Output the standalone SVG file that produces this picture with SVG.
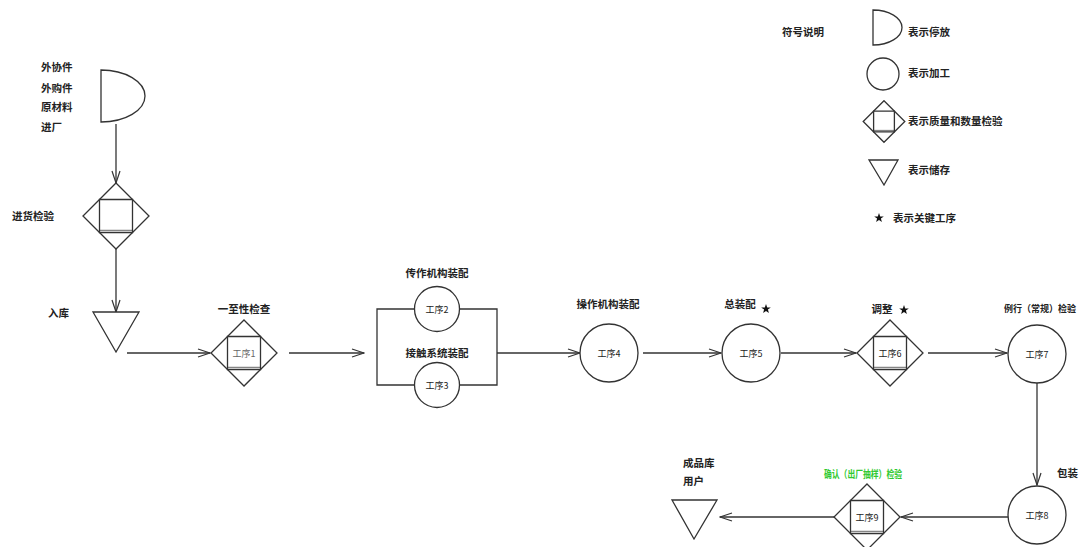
<svg xmlns="http://www.w3.org/2000/svg" xmlns:xlink="http://www.w3.org/1999/xlink" width="1088" height="547" viewBox="0 0 1088 547">
<style>
.s{fill:#fff;stroke:#333;stroke-width:1.3;vector-effect:non-scaling-stroke}
.n{fill:none;stroke:#333;stroke-width:1.3;vector-effect:non-scaling-stroke}
.c{stroke:#333;stroke-width:1.3;fill:none;marker-end:url(#ah)}
.t{font-family:"Noto Sans CJK SC","Noto Sans",sans-serif;font-size:10.5px;font-weight:bold;fill:#222}
.m{text-anchor:middle}
.i{font-family:"Noto Sans CJK SC","Noto Sans",sans-serif;font-size:9px;fill:#222;text-anchor:middle}
.g{fill:#2fc92f}
.st{fill:#111}
</style>
<defs>
<marker id="ah" markerUnits="userSpaceOnUse" markerWidth="14" markerHeight="10" refX="13" refY="5" orient="auto">
<path d="M1,1 L13,5 L1,9" fill="none" stroke="#333" stroke-width="1.2"/>
</marker>
<g id="dq">
<polygon points="0,-33 33,0 0,33 -33,0" class="s"/>
<rect x="-16.5" y="-16.5" width="33" height="33" class="n"/>
<line x1="-16.5" y1="14.3" x2="16.5" y2="14.3" class="n" stroke-opacity="0.6"/>
</g>
<path id="star" d="M0,-5 L1.2,-1.6 L4.8,-1.5 L1.9,0.6 L2.9,4 L0,2 L-2.9,4 L-1.9,0.6 L-4.8,-1.5 L-1.2,-1.6 Z"/>
</defs>

<g id="connectors">
<line x1="116" y1="124" x2="116" y2="183" class="c"/>
<line x1="116" y1="249" x2="116" y2="312" class="c"/>
<line x1="127" y1="353" x2="210" y2="353" class="c"/>
<line x1="289" y1="353" x2="364" y2="353" class="c"/>
<line x1="497" y1="353" x2="580" y2="353" class="c"/>
<line x1="643" y1="353" x2="721" y2="353" class="c"/>
<line x1="781" y1="353" x2="856" y2="353" class="c"/>
<line x1="928" y1="353" x2="1007" y2="353" class="c"/>
<line x1="1037" y1="383" x2="1037" y2="485" class="c"/>
<line x1="1008" y1="517" x2="901" y2="517" class="c"/>
<line x1="834" y1="517" x2="720" y2="517" class="c"/>
</g>

<g id="incoming">
<path d="M101,70 A44,26 0 0 1 101,122 Z" class="s"/>
<text class="t" x="41" y="71">外协件</text>
<text class="t" x="41" y="92">外购件</text>
<text class="t" x="41" y="111">原材料</text>
<text class="t" x="41" y="131">进厂</text>
</g>

<g id="incoming-inspection">
<use xlink:href="#dq" transform="translate(116,216)"/>
<text class="t" x="12" y="220">进货检验</text>
</g>

<g id="storage-in">
<polygon points="93,312 139,312 116,352" class="s"/>
<text class="t" x="48" y="317">入库</text>
</g>

<g id="step1">
<use xlink:href="#dq" transform="translate(244,353)"/>
<text class="i" x="244" y="357" style="fill:#666">工序1</text>
<text class="t m" x="244" y="313">一至性检查</text>
</g>

<g id="parallel-box">
<rect x="377" y="309" width="120" height="76" class="n"/>
<text class="t m" x="437" y="357">接触系统装配</text>
</g>

<g id="step2">
<circle cx="437" cy="309" r="22.5" class="s"/>
<text class="i" x="437" y="313">工序2</text>
<text class="t m" x="437" y="277">传作机构装配</text>
</g>

<g id="step3">
<circle cx="437" cy="385" r="22.5" class="s"/>
<text class="i" x="437" y="389">工序3</text>
</g>

<g id="step4">
<circle cx="609" cy="353" r="29" class="s"/>
<text class="i" x="609" y="357">工序4</text>
<text class="t m" x="608" y="308">操作机构装配</text>
</g>

<g id="step5">
<circle cx="751" cy="353" r="29" class="s"/>
<text class="i" x="751" y="357">工序5</text>
<text class="t m" x="740" y="308">总装配</text>
<use xlink:href="#star" class="st" transform="translate(766,309)"/>
</g>

<g id="step6">
<use xlink:href="#dq" transform="translate(890,353)"/>
<text class="i" x="890" y="357">工序6</text>
<text class="t m" x="882" y="313">调整</text>
<use xlink:href="#star" class="st" transform="translate(904,310)"/>
</g>

<g id="step7">
<circle cx="1037" cy="354" r="29" class="s"/>
<text class="i" x="1037" y="358">工序7</text>
<text class="t" x="1004" y="312" style="font-size:9.5px" textLength="72" lengthAdjust="spacingAndGlyphs">例行（常规）检验</text>
</g>

<g id="step8">
<circle cx="1037" cy="515" r="29" class="s"/>
<text class="i" x="1037" y="519">工序8</text>
<text class="t" x="1057" y="477">包装</text>
</g>

<g id="step9">
<use xlink:href="#dq" transform="translate(867,517)"/>
<text class="i" x="867" y="521">工序9</text>
<text class="t g" x="824" y="478" textLength="78" lengthAdjust="spacingAndGlyphs">确认（出厂抽样）检验</text>
</g>

<g id="storage-out">
<polygon points="672,500 717,500 694,539" class="s"/>
<text class="t" x="683" y="467">成品库</text>
<text class="t" x="683" y="485">用户</text>
</g>

<g id="legend">
<text class="t" x="782" y="36">符号说明</text>
<path d="M873,10 A29,17.5 0 0 1 873,45 Z" class="s"/>
<text class="t" x="908" y="36">表示停放</text>
<circle cx="883" cy="74" r="16" class="s"/>
<text class="t" x="908" y="77">表示加工</text>
<use xlink:href="#dq" transform="translate(884,121.5) scale(0.63)"/>
<text class="t" x="908" y="125">表示质量和数量检验</text>
<polygon points="869,160 898,160 884,185" class="s"/>
<text class="t" x="908" y="174">表示储存</text>
<use xlink:href="#star" class="st" transform="translate(879,218)"/>
<text class="t" x="893" y="222">表示关键工序</text>
</g>
</svg>
